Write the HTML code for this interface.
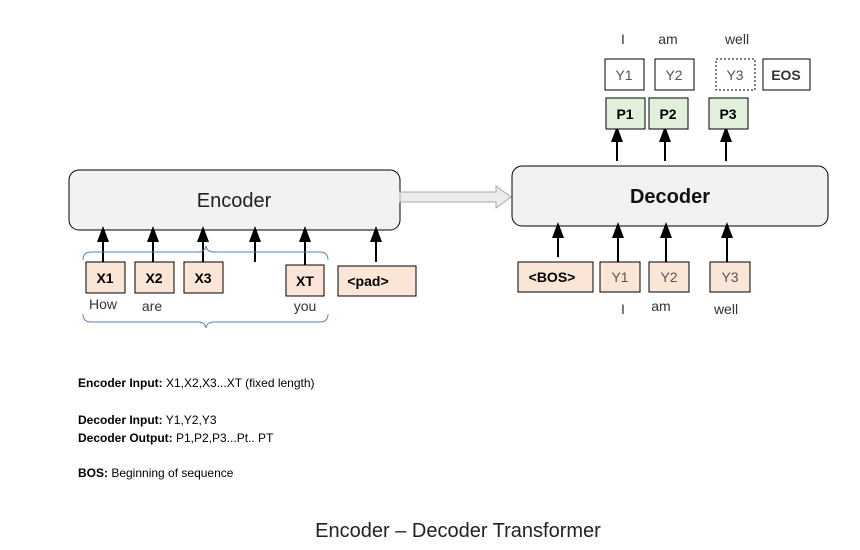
<!DOCTYPE html>
<html><head><meta charset="utf-8"><style>
body{margin:0;background:#fff;}
svg text{font-family:"Liberation Sans",sans-serif;}
</style></head><body>
<svg width="860" height="545" viewBox="0 0 860 545" xmlns="http://www.w3.org/2000/svg">
<defs><marker id="a" markerWidth="8" markerHeight="8" refX="4" refY="4" orient="auto"><path d="M0,1 L8,4 L0,7 z" fill="#000"/></marker></defs>
<rect x="69" y="170" width="331" height="60" rx="10" fill="#f2f2f2" stroke="#000" stroke-width="1"/>
<text x="234" y="207" font-size="20" text-anchor="middle" fill="#222">Encoder</text>
<rect x="512" y="166" width="316" height="60" rx="10" fill="#f2f2f2" stroke="#000" stroke-width="1"/>
<text x="670" y="203" font-size="20" font-weight="bold" text-anchor="middle" fill="#111">Decoder</text>
<path d="M400,192 H496 V186 L511,197 L496,208 V202 H400 Z" fill="#ececec" stroke="#aaa"/>
<g stroke="#000" stroke-width="2" fill="none" marker-end="url(#a)">
<line x1="103" y1="262" x2="103" y2="234"/><line x1="153" y1="262" x2="153" y2="234"/>
<line x1="203" y1="262" x2="203" y2="234"/><line x1="255" y1="262" x2="255" y2="234"/>
<line x1="305" y1="265" x2="305" y2="234"/><line x1="376" y1="262" x2="376" y2="234"/>
<line x1="558" y1="257" x2="558" y2="230"/><line x1="618" y1="262" x2="618" y2="230"/>
<line x1="666" y1="262" x2="666" y2="230"/><line x1="727" y1="262" x2="727" y2="230"/>
<line x1="617" y1="161" x2="617" y2="134"/><line x1="665" y1="161" x2="665" y2="134"/>
<line x1="726" y1="161" x2="726" y2="134"/>
</g>
<g stroke="#5b7fbf" stroke-width="1" fill="none">
<path d="M83,260 Q83,252 91,252 H198 Q205,252 206,246 Q207,252 214,252 H320 Q328,252 328,260"/>
<path d="M83,314 Q83,322 91,322 H198 Q205,322 206,328 Q207,322 214,322 H320 Q328,322 328,314"/>
</g>
<g fill="#fbe5d6" stroke="#000">
<rect x="86" y="262" width="39" height="31"/><rect x="135" y="262" width="39" height="31"/>
<rect x="184" y="262" width="39" height="31"/><rect x="286" y="265" width="38" height="31"/>
<rect x="338" y="266" width="78" height="30"/>
<rect x="518" y="262" width="75" height="30"/><rect x="600" y="262" width="40" height="30"/>
<rect x="649" y="262" width="40" height="30"/><rect x="710" y="262" width="40" height="30"/>
</g>
<g fill="#e2efda" stroke="#000">
<rect x="606" y="98" width="39" height="31"/><rect x="649" y="98" width="39" height="31"/><rect x="709" y="98" width="39" height="31"/>
</g>
<g fill="#fff" stroke="#000">
<rect x="605" y="59" width="39" height="31"/><rect x="655" y="59" width="39" height="31"/>
<rect x="716" y="59" width="39" height="31" stroke-dasharray="2,2"/><rect x="763" y="59" width="47" height="31"/>
</g>
<g font-size="14" font-weight="bold" text-anchor="middle" fill="#000">
<text x="105" y="283">X1</text><text x="154" y="283">X2</text><text x="203" y="283">X3</text>
<text x="305" y="286">XT</text><text x="368" y="286">&lt;pad&gt;</text>
<text x="552" y="282">&lt;BOS&gt;</text>
<text x="625" y="119">P1</text><text x="668" y="119">P2</text><text x="728" y="119">P3</text>
<text x="786" y="80" fill="#333">EOS</text>
</g>
<g font-size="14" text-anchor="middle" fill="#555">
<text x="620" y="282">Y1</text><text x="669" y="282">Y2</text><text x="730" y="282">Y3</text>
<text x="624" y="80">Y1</text><text x="674" y="80">Y2</text><text x="735" y="80">Y3</text>
</g>
<g font-size="14" text-anchor="middle" fill="#333">
<text x="103" y="309">How</text><text x="152" y="311">are</text><text x="305" y="311">you</text>
<text x="623" y="314">I</text><text x="661" y="311">am</text><text x="726" y="314">well</text>
<text x="623" y="44">I</text><text x="668" y="44">am</text><text x="737" y="44">well</text>
</g>
<g font-size="12" fill="#000">
<text x="78" y="387"><tspan font-weight="bold">Encoder Input:</tspan> X1,X2,X3...XT (fixed length)</text>
<text x="78" y="424"><tspan font-weight="bold">Decoder Input:</tspan> Y1,Y2,Y3</text>
<text x="78" y="442"><tspan font-weight="bold">Decoder Output:</tspan> P1,P2,P3...Pt.. PT</text>
<text x="78" y="477"><tspan font-weight="bold">BOS:</tspan> Beginning of sequence</text>
</g>
<text x="458" y="537" font-size="20" text-anchor="middle" fill="#222">Encoder – Decoder Transformer</text>
</svg>
</body></html>
